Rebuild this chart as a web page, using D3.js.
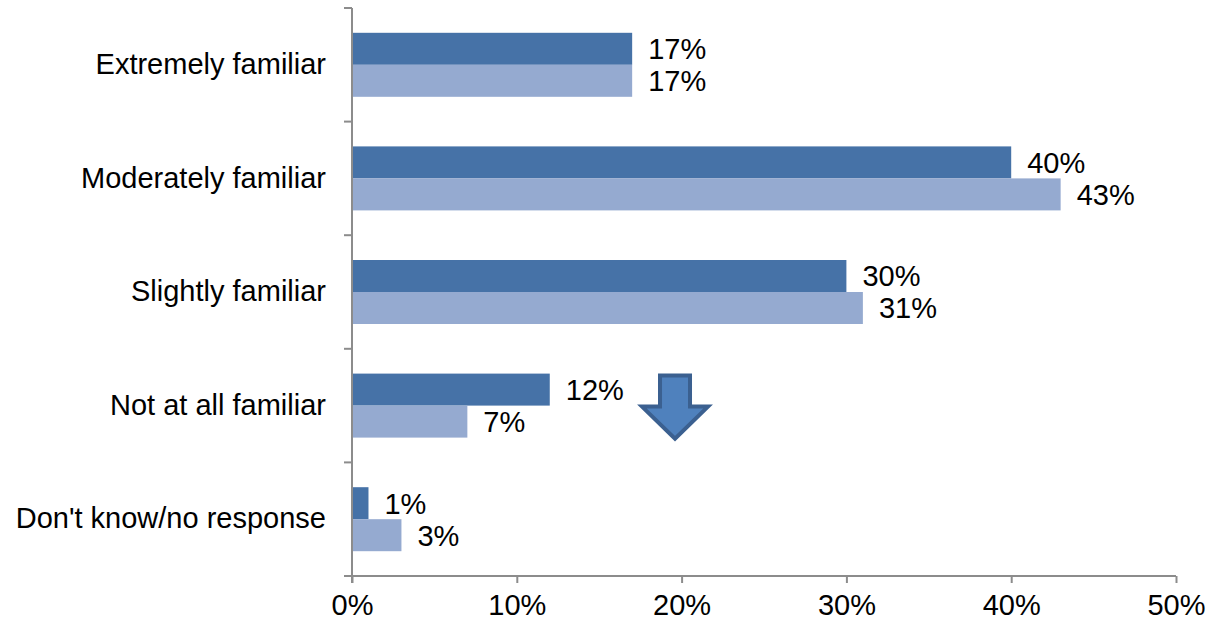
<!DOCTYPE html>
<html lang="en">
  <head>
    <title>Familiarity</title>
    <script src="https://d3js.org/d3.v7.min.js"></script>
    <style>
      body { margin: 0; background: #fff; }
      svg text { font-family: "Liberation Sans", Arial, sans-serif; fill: #000; }
    </style>
  </head>
  <body>
    <div id="content"></div>
    <script>
      const categories = [
        "Extremely familiar",
        "Moderately familiar",
        "Slightly familiar",
        "Not at all familiar",
        "Don't know/no response",
      ];
      const seriesA = [17, 40, 30, 12, 1];
      const seriesB = [17, 43, 31, 7, 3];
      const xTicks = [0, 10, 20, 30, 40, 50];

      const width = 1207;
      const height = 623;
      const margin = { top: 8, right: 31, bottom: 47, left: 352 };
      const fontSize = "29px";

      const svg = d3
        .select("#content")
        .append("svg")
        .attr("width", width)
        .attr("height", height);

      const x = d3
        .scaleLinear()
        .domain([0, 50])
        .range([margin.left, width - margin.right]);

      const y = d3
        .scaleBand()
        .domain(categories)
        .range([margin.top, height - margin.bottom]);

      const barH = 32;
      const colors = ["#4672a7", "#95aad0"];
      const series = [seriesA, seriesB];

      series.forEach((vals, si) => {
        const rows = categories.map((c, i) => ({ c, v: vals[i] }));
        const yOf = (d) => y(d.c) + y.bandwidth() / 2 - barH + si * barH;

        svg
          .selectAll(".bar" + si)
          .data(rows)
          .enter()
          .append("rect")
          .attr("x", x(0))
          .attr("y", yOf)
          .attr("width", (d) => x(d.v) - x(0))
          .attr("height", barH)
          .attr("fill", colors[si]);

        svg
          .selectAll(".lab" + si)
          .data(rows)
          .enter()
          .append("text")
          .attr("x", (d) => x(d.v) + 16)
          .attr("y", (d) => yOf(d) + barH / 2)
          .attr("dy", "0.36em")
          .style("font-size", fontSize)
          .text((d) => d.v + "%");
      });

      // axes
      const axisColor = "#8c8c8c";
      const yAxis = svg
        .append("g")
        .attr("transform", `translate(${x(0)},0)`)
        .call(
          d3
            .axisLeft(y)
            .tickSize(0)
            .tickPadding(26)
        );
      yAxis.select(".domain").remove();
      yAxis.selectAll("text").style("font-size", fontSize).attr("font-family", null);

      // category boundary ticks
      const bounds = categories.map((c) => y(c)).concat([y.range()[1]]);
      svg
        .selectAll(".ytick")
        .data(bounds)
        .enter()
        .append("line")
        .attr("x1", x(0) - 8)
        .attr("x2", x(0))
        .attr("y1", (d) => d)
        .attr("y2", (d) => d)
        .attr("stroke", axisColor)
        .attr("stroke-width", 2);

      svg
        .append("line")
        .attr("x1", x(0))
        .attr("x2", x(0))
        .attr("y1", y.range()[0])
        .attr("y2", y.range()[1] + 7)
        .attr("stroke", axisColor)
        .attr("stroke-width", 2);

      const xAxis = svg
        .append("g")
        .attr("transform", `translate(0,${y.range()[1]})`)
        .call(
          d3
            .axisBottom(x)
            .tickValues(xTicks)
            .tickSize(7)
            .tickPadding(11)
            .tickFormat((d) => d + "%")
        );
      xAxis.select(".domain").attr("stroke", axisColor).attr("stroke-width", 2).attr("d", `M${x(0)},0H${x(50)}`);
      xAxis.selectAll(".tick line").attr("stroke", axisColor).attr("stroke-width", 2);
      xAxis.selectAll("text").style("font-size", fontSize).attr("font-family", null);

      // down arrow annotation between the "Not at all familiar" bars
      const ax = x(19.6);
      const aTop = y("Not at all familiar") + y.bandwidth() / 2 - barH + 2;
      const arrow = [
        [ax - 15, aTop],
        [ax + 15, aTop],
        [ax + 15, aTop + 31],
        [ax + 33, aTop + 31],
        [ax, aTop + 63],
        [ax - 33, aTop + 31],
        [ax - 15, aTop + 31],
      ];
      svg
        .append("path")
        .attr("d", d3.line()(arrow) + "Z")
        .attr("fill", "#4f81bd")
        .attr("stroke", "#3b6090")
        .attr("stroke-width", 4)
        .attr("stroke-linejoin", "miter");
    </script>
  </body>
</html>
